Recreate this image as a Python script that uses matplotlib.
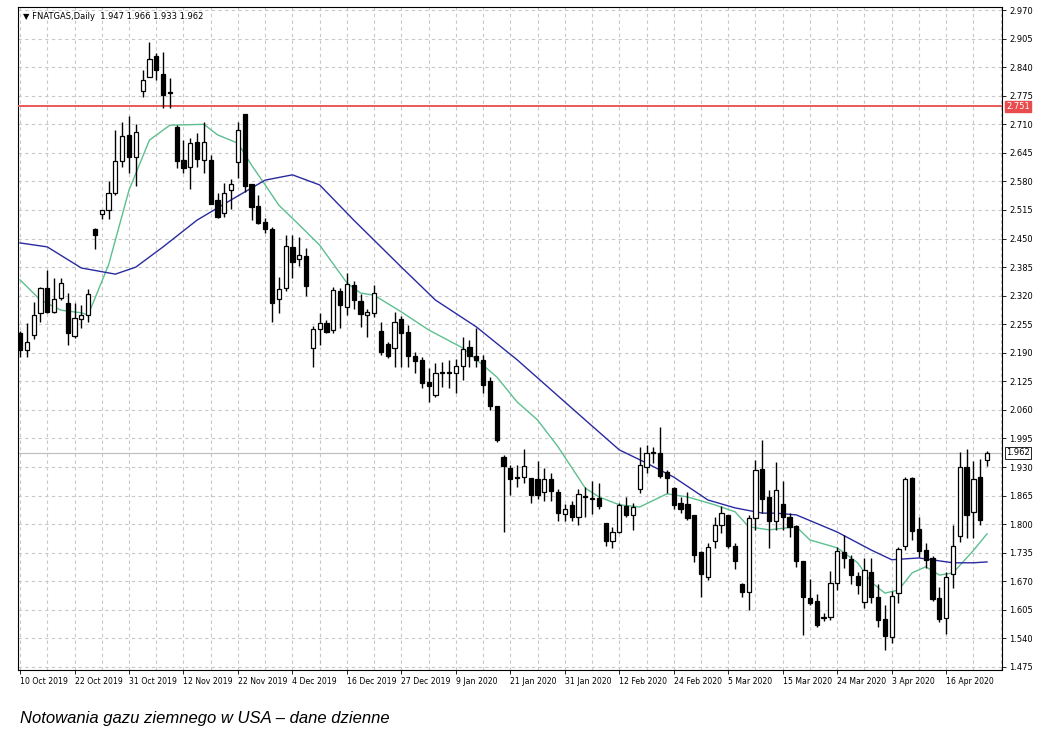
import matplotlib
matplotlib.use("Agg")
import matplotlib.pyplot as plt
import numpy as np

opens = [2.235,2.196,2.230,2.280,2.337,2.283,2.314,2.303,2.228,2.267,2.276,2.472,2.506,2.515,2.553,2.626,2.686,2.636,2.786,2.818,
         2.865,2.824,2.783,2.704,2.629,2.613,2.670,2.629,2.629,2.538,2.508,2.560,2.624,2.733,2.574,2.524,2.488,2.472,2.312,2.337,
         2.431,2.403,2.410,2.201,2.244,2.258,2.242,2.331,2.294,2.344,2.308,2.276,2.280,2.240,2.210,2.201,2.267,2.237,2.183,2.174,
         2.124,2.094,2.144,2.144,2.144,2.160,2.203,2.183,2.174,2.126,2.069,1.953,1.928,1.905,1.907,1.905,1.903,1.873,1.903,1.873,
         1.823,1.844,1.816,1.864,1.857,1.860,1.803,1.762,1.782,1.841,1.821,1.880,1.930,1.962,1.962,1.919,1.882,1.848,1.846,1.821,
         1.737,1.680,1.762,1.798,1.821,1.751,1.664,1.646,1.814,1.926,1.862,1.807,1.846,1.816,1.796,1.717,1.632,1.625,1.587,1.589,
         1.666,1.737,1.721,1.682,1.623,1.691,1.634,1.584,1.543,1.643,1.751,1.905,1.789,1.741,1.723,1.632,1.587,1.687,1.773,1.930,
         1.828,1.907,1.947]
highs = [2.240,2.258,2.306,2.340,2.378,2.360,2.360,2.326,2.303,2.299,2.335,2.474,2.515,2.581,2.697,2.715,2.729,2.711,2.833,2.897,
         2.872,2.874,2.815,2.708,2.674,2.679,2.690,2.715,2.640,2.553,2.576,2.585,2.715,2.733,2.574,2.549,2.497,2.476,2.362,2.458,
         2.458,2.454,2.428,2.251,2.280,2.265,2.340,2.338,2.372,2.353,2.324,2.290,2.344,2.260,2.215,2.283,2.274,2.253,2.192,2.181,
         2.155,2.167,2.169,2.174,2.176,2.226,2.219,2.246,2.185,2.135,2.069,1.957,1.935,1.935,1.971,1.905,1.944,1.928,1.917,1.880,
         1.846,1.853,1.880,1.885,1.898,1.894,1.803,1.794,1.849,1.862,1.849,1.976,1.980,1.976,2.021,1.924,1.885,1.862,1.874,1.821,
         1.739,1.757,1.817,1.842,1.821,1.757,1.666,1.820,1.946,1.992,1.878,1.942,1.898,1.825,1.798,1.717,1.675,1.641,1.598,1.693,
         1.748,1.776,1.730,1.691,1.723,1.723,1.664,1.616,1.648,1.748,1.908,1.908,1.816,1.757,1.728,1.657,1.691,1.798,1.965,1.971,
         1.944,1.948,1.966]
lows = [2.180,2.180,2.221,2.260,2.280,2.280,2.310,2.208,2.224,2.246,2.260,2.426,2.494,2.494,2.549,2.613,2.599,2.570,2.772,2.818,
        2.811,2.747,2.747,2.610,2.599,2.563,2.613,2.599,2.529,2.497,2.499,2.517,2.588,2.556,2.492,2.483,2.463,2.260,2.280,2.330,
        2.360,2.388,2.319,2.158,2.208,2.235,2.235,2.246,2.276,2.290,2.249,2.226,2.271,2.185,2.178,2.158,2.158,2.158,2.144,2.110,
        2.078,2.089,2.112,2.110,2.099,2.128,2.158,2.158,2.099,2.060,1.987,1.782,1.866,1.885,1.894,1.848,1.857,1.853,1.853,1.807,
        1.807,1.807,1.798,1.816,1.823,1.835,1.751,1.746,1.780,1.816,1.787,1.870,1.917,1.940,1.905,1.871,1.835,1.825,1.810,1.714,
        1.634,1.673,1.746,1.780,1.746,1.698,1.634,1.605,1.787,1.825,1.746,1.787,1.787,1.771,1.703,1.548,1.616,1.566,1.580,1.582,
        1.650,1.700,1.664,1.641,1.609,1.620,1.566,1.514,1.530,1.621,1.741,1.764,1.725,1.700,1.625,1.577,1.550,1.655,1.760,1.769,
        1.769,1.798,1.933]
closes = [2.196,2.215,2.276,2.337,2.283,2.312,2.348,2.235,2.269,2.276,2.324,2.458,2.515,2.553,2.626,2.683,2.636,2.692,2.811,2.858,
          2.833,2.777,2.781,2.626,2.610,2.667,2.631,2.670,2.529,2.499,2.553,2.574,2.697,2.569,2.522,2.485,2.472,2.303,2.335,2.433,
          2.397,2.413,2.342,2.244,2.258,2.237,2.333,2.299,2.347,2.310,2.278,2.283,2.326,2.192,2.183,2.260,2.235,2.183,2.171,2.121,
          2.114,2.144,2.146,2.145,2.160,2.199,2.183,2.174,2.117,2.069,1.992,1.933,1.903,1.906,1.932,1.866,1.866,1.903,1.876,1.826,
          1.834,1.816,1.869,1.862,1.858,1.841,1.762,1.782,1.844,1.821,1.839,1.935,1.962,1.963,1.910,1.905,1.844,1.834,1.814,1.730,
          1.687,1.748,1.798,1.826,1.751,1.717,1.646,1.814,1.923,1.857,1.807,1.878,1.816,1.794,1.717,1.634,1.621,1.571,1.589,1.666,
          1.739,1.723,1.684,1.662,1.696,1.634,1.582,1.546,1.637,1.744,1.903,1.784,1.739,1.719,1.630,1.584,1.680,1.751,1.930,1.821,
          1.903,1.810,1.962]

fast_idx = [0,3,6,9,10,13,16,19,22,27,29,32,34,36,38,41,44,48,50,52,56,60,65,70,73,76,79,83,85,88,91,95,98,102,105,107,110,114,116,120,123,125,127,129,131,133,135,137,140,142]
fast_val = [2.356,2.310,2.287,2.281,2.276,2.390,2.560,2.674,2.708,2.710,2.686,2.667,2.617,2.572,2.526,2.481,2.435,2.349,2.326,2.321,2.283,2.242,2.201,2.135,2.078,2.037,1.976,1.882,1.862,1.844,1.839,1.869,1.862,1.844,1.828,1.794,1.787,1.794,1.764,1.746,1.712,1.668,1.643,1.650,1.689,1.703,1.684,1.689,1.740,1.778]
slow_idx = [0,4,9,14,17,21,26,31,36,40,44,49,56,61,67,73,83,88,92,96,101,105,109,111,114,120,125,128,132,137,140,142]
slow_val = [2.440,2.431,2.383,2.369,2.385,2.431,2.492,2.538,2.583,2.595,2.572,2.492,2.385,2.310,2.249,2.174,2.037,1.969,1.939,1.907,1.855,1.837,1.825,1.825,1.821,1.782,1.741,1.719,1.723,1.712,1.712,1.714]

date_labels = ["10 Oct 2019","22 Oct 2019","31 Oct 2019","12 Nov 2019","22 Nov 2019","4 Dec 2019","16 Dec 2019",
               "27 Dec 2019","9 Jan 2020","21 Jan 2020","31 Jan 2020","12 Feb 2020","24 Feb 2020","5 Mar 2020",
               "15 Mar 2020","24 Mar 2020","3 Apr 2020","16 Apr 2020"]
price_ticks = [2.970,2.905,2.840,2.775,2.710,2.645,2.580,2.515,2.450,2.385,2.320,2.255,2.190,2.125,2.060,1.995,1.930,1.865,1.800,1.735,1.670,1.605,1.540,1.475]
resistance = 2.751
last_price = 1.962

fig = plt.figure(figsize=(10.49, 7.52), dpi=100)
ax = fig.add_axes([18/1049, 1-670/752, (1002-18)/1049, (670-7)/752])
n = len(closes)
x = np.arange(n)
ax.set_xlim(-0.3, 144.2)
ax.set_ylim(1.468, 2.977)

for t in price_ticks:
    ax.axhline(t, color="#c8c8c8", lw=0.8, ls=(0, (3, 3)), zorder=0)
for i in range(0, 145, 4):
    ax.axvline(i, color="#c8c8c8", lw=0.8, ls=(0, (3, 3)), zorder=0)

ax.plot(fast_idx, fast_val, color="#5dbf8f", lw=1.0, zorder=2)
ax.plot(slow_idx, slow_val, color="#2a2aa0", lw=1.0, zorder=2)
ax.axhline(resistance, color="#e84c4c", lw=1.3, zorder=3)
ax.axhline(last_price, color="#c0c0c0", lw=0.9, zorder=1)

o = np.array(opens); c = np.array(closes); h = np.array(highs); l = np.array(lows)
ax.vlines(x, l, h, color="black", lw=1.0, zorder=4)
up = c >= o
body = np.abs(c - o)
body = np.maximum(body, 0.0015)
ax.bar(x[up], body[up], bottom=np.minimum(o, c)[up], width=0.62, color="white", edgecolor="black", lw=0.9, zorder=5)
ax.bar(x[~up], body[~up], bottom=np.minimum(o, c)[~up], width=0.62, color="black", edgecolor="black", lw=0.9, zorder=5)

ax.yaxis.tick_right()
ax.set_yticks(price_ticks)
ax.set_yticklabels([f"{t:.3f}" for t in price_ticks], fontsize=6)
ax.tick_params(axis="y", length=3, width=0.6, pad=2)
ax.set_xticks(range(0, 8 * len(date_labels), 8))
ax.set_xticklabels(date_labels, fontsize=5.6, ha="left")
ax.tick_params(axis="x", length=3, width=0.6, pad=2)
for s in ax.spines.values():
    s.set_linewidth(0.8)

ax.text(1.004, resistance, f"{resistance:.3f}", transform=ax.get_yaxis_transform(), fontsize=6,
        color="white", va="center", ha="left", bbox=dict(boxstyle="square,pad=0.15", fc="#e84c4c", ec="#e84c4c"), zorder=10, clip_on=False)
ax.text(1.004, last_price, f"{last_price:.3f}", transform=ax.get_yaxis_transform(), fontsize=6,
        color="black", va="center", ha="left", bbox=dict(boxstyle="square,pad=0.15", fc="white", ec="black", lw=0.6), zorder=10, clip_on=False)

ax.text(0.005, 0.992, "▼ FNATGAS,Daily  1.947 1.966 1.933 1.962", transform=ax.transAxes, fontsize=6, va="top", ha="left")

fig.text(20/1049, 1-718/752, "Notowania gazu ziemnego w USA – dane dzienne", fontsize=12, style="italic",
         va="center", ha="left", family="Liberation Sans")

fig.savefig("out.png", dpi=100)
